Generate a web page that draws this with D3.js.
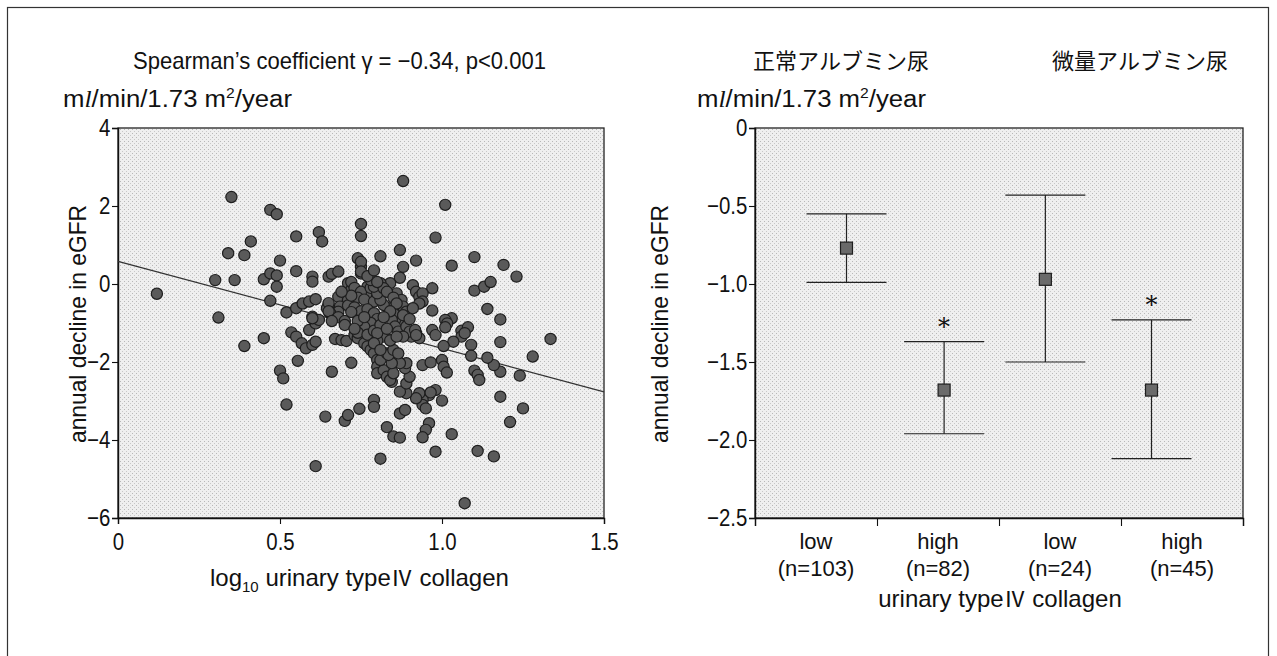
<!DOCTYPE html>
<html>
<head>
<meta charset="utf-8">
<script src="https://cdn.jsdelivr.net/npm/d3@7"></script>
<style>
  body { margin: 0; background: #fff; }
  svg { display: block; }
  text { fill: #111; }
</style>
</head>
<body>
<svg id="chart" width="1277" height="656"></svg>
<script>
// Left panel: log10 urinary type IV collagen vs annual eGFR decline (one point per patient)
const scatterPoints = [
  [0.12,-0.25],[0.30,0.10],[0.36,0.10],[0.35,2.23],[0.47,1.90],[0.49,1.79],[0.55,1.22],[0.62,1.33],[0.63,1.09],[0.41,1.09],
  [0.34,0.79],[0.39,0.74],[0.50,0.60],[0.55,0.33],[0.45,0.12],[0.47,0.27],[0.49,0.22],[0.49,-0.07],[0.47,-0.43],[0.60,0.19],
  [0.60,0.06],[0.65,0.19],[0.66,0.26],[0.68,0.32],[0.75,1.54],[0.75,1.23],[0.74,0.66],[0.75,0.44],[0.75,0.27],[0.52,-0.73],
  [0.55,-0.62],[0.57,-0.50],[0.59,-0.45],[0.61,-0.39],[0.65,-0.54],[0.68,-0.33],[0.71,0.02],[0.72,-0.15],[0.71,-0.41],[0.31,-0.86],
  [0.60,-0.84],
  [0.88,2.64],[1.01,2.03],[0.98,1.19],[0.87,0.87],[0.81,0.71],[0.92,0.60],[0.88,0.44],[1.03,0.47],[1.10,0.69],[1.19,0.49],
  [1.23,0.19],[0.87,0.16],[0.97,-0.11],[0.91,-0.03],[0.92,-0.20],[0.93,-0.33],[0.94,-0.24],[0.94,-0.45],[0.93,-0.50],[1.10,-0.17],
  [1.13,-0.07],[1.15,0.05],[1.14,-0.64],[0.97,-0.68],[1.03,-0.88],[1.18,-0.91],
  [0.45,-1.39],[0.39,-1.59],[0.535,-1.24],[0.55,-1.35],[0.567,-1.52],[0.58,-1.65],[0.60,-1.56],[0.61,-1.48],[0.59,-1.18],[0.61,-1.01],
  [0.62,-0.92],[0.555,-1.97],[0.50,-2.22],[0.51,-2.42],[0.52,-3.09],[0.64,-3.40],[0.70,-3.51],[0.71,-3.36],[0.745,-3.20],[0.61,-4.67],
  [0.66,-2.25],[0.72,-2.02],[0.67,-1.41],[0.69,-1.44],[0.705,-1.46],[0.73,-1.31],[0.74,-1.39],[0.76,-1.52],[0.77,-1.60],[0.78,-1.69],
  [0.79,-1.78],[0.80,-1.95],[0.80,-2.12],[0.80,-2.29],
  [1.335,-1.41],[1.18,-1.49],[1.28,-1.86],[1.24,-2.35],[1.18,-2.25],[1.16,-2.08],[1.14,-1.89],[1.09,-1.56],[1.09,-1.84],[1.10,-2.22],
  [1.11,-2.33],[1.115,-2.46],[1.18,-2.89],[1.25,-3.19],[1.21,-3.54],[1.03,-3.85],[0.98,-4.30],[1.11,-4.28],[1.16,-4.42],[0.81,-4.48],
  [1.07,-5.62],[1.01,-0.92],[1.016,-1.01],[1.01,-1.11],[1.06,-1.20],[1.08,-1.11],[1.06,-1.35],[1.07,-1.26],[1.035,-1.48],[1.005,-1.59],
  [0.97,-1.18],[0.98,-1.31],[0.94,-2.08],[0.965,-2.01],[1.00,-1.95],[1.005,-2.12],[1.015,-2.27],[1.00,-2.99],[0.98,-2.72],[0.96,-2.85],
  [0.94,-2.97],[0.94,-3.10],[0.95,-3.19],[0.93,-2.80],[0.92,-2.93],[0.965,-2.78],[0.96,-3.57],[0.95,-3.74],[0.94,-3.93],[0.87,-3.32],
  [0.79,-2.97],[0.79,-3.15],[0.83,-3.67],[0.85,-3.91],[0.87,-3.94],[0.886,-3.23],[0.89,-2.80],[0.87,-2.76],[0.89,-2.55],[0.90,-2.38],
  [0.886,-2.16],[0.89,-2.03],[0.82,-2.21],[0.83,-2.38],[0.845,-2.51],[0.81,-1.95],[0.83,-1.78],[0.85,-1.74],[0.86,-1.86],[0.87,-2.03],
  [0.84,-2.46],[0.85,-2.29],[0.845,-2.03],[0.835,-1.82],[0.85,-1.69],[0.865,-1.78],[0.92,-1.26],[0.93,-1.39],[0.905,-1.35],
  [0.75,0.57],[0.75,0.32],[0.77,-0.07],[0.78,-0.24],[0.685,-0.58],[0.68,-0.71],[0.645,-0.62],[0.655,-0.75],[0.65,-0.49],[0.60,-0.88],
  [0.72,0.05],[0.73,-0.10],[0.75,-0.20],[0.74,-0.35],[0.76,-0.40],[0.78,-0.10],[0.80,-0.30],[0.79,-0.45],[0.71,-0.55],[0.73,-0.60],
  [0.75,-0.70],[0.77,-0.65],[0.79,-0.75],[0.80,-0.90],[0.78,-1.00],[0.76,-1.10],[0.74,-1.25],[0.77,-1.30],[0.79,-1.20],[0.81,-1.05],
  [0.82,-1.35],[0.80,-1.45],[0.84,0.02],[0.86,-0.24],[0.875,-0.41],[0.88,-0.58],[0.89,-0.71],[0.875,-0.92],[0.865,-1.01],[0.855,-0.92],
  [0.85,-0.75],[0.835,-0.62],[0.82,-0.54],[0.81,-0.41],[0.80,-0.24],[0.79,-0.07],[0.78,0.10],[0.81,0.02],[0.82,-0.11],[0.845,-0.92],
  [0.855,-1.09],[0.865,-1.22],[0.89,-1.09],[0.90,-1.22],[0.917,-1.18],[0.92,-1.31],[0.88,-1.35],[0.65,-0.70],[0.68,-0.85],[0.70,-0.95],
  [0.72,-0.72],[0.74,-0.95],[0.70,-1.05],[0.73,-1.15],[0.66,-0.95],[0.80,-1.26],[0.79,-1.52],[0.81,-1.69],[0.77,0.20],[0.79,0.35],
  [0.80,0.05],[0.83,-0.20],[0.85,-0.35],[0.86,-0.50],[0.84,-0.70],[0.88,-0.80],[0.90,-0.90],[0.91,-0.62],[0.82,-0.85],[0.83,-1.15],
  [0.84,-1.45],[0.86,-1.35],[0.76,-0.85],[0.72,-0.30],[0.69,-0.20]
];

// Fitted regression line (intercept at x = 0, slope per log10 unit)
const fitIntercept = 0.58;
const fitSlope = -2.23;

const leftXTicks = [0, 0.5, 1.0, 1.5];
const leftXTickLabels = ["0", "0.5", "1.0", "1.5"];
const leftYTicks = [4, 2, 0, -2, -4, -6];
const leftYTickLabels = ["4", "2", "0", "−2", "−4", "−6"];

// Right panel: mean annual decline with error bars, by albuminuria stage and collagen level
const groupLabels = ["low", "high", "low", "high"];
const groupCounts = ["(n=103)", "(n=82)", "(n=24)", "(n=45)"];
const groupPositions = [0.75, 1.55, 2.38, 3.25];   // position of each marker along the category axis
const groupMeans = [-0.77, -1.68, -0.97, -1.68];
const groupUpper = [-0.55, -1.37, -0.43, -1.23];
const groupLower = [-0.99, -1.96, -1.50, -2.12];
const groupSignificant = [false, true, false, true];
const stageHeaders = ["正常アルブミン尿", "微量アルブミン尿"];
const rightYTicks = [0, -0.5, -1.0, -1.5, -2.0, -2.5];
const rightYTickLabels = ["0", "−0.5", "−1.0", "−1.5", "−2.0", "−2.5"];

const svg = d3.select("#chart");
const FONT = "'Liberation Sans', Arial, sans-serif";
const CJK = "'Noto Sans CJK JP', sans-serif";
const FS = 24;

// Stippled screen tone used for the plot backgrounds
const defs = svg.append("defs");
const pat = defs.append("pattern").attr("id", "tone")
  .attr("width", 4).attr("height", 4).attr("patternUnits", "userSpaceOnUse");
pat.append("rect").attr("width", 4).attr("height", 4).attr("fill", "#efefef");
pat.append("rect").attr("x", 0).attr("y", 1).attr("width", 1).attr("height", 1).attr("fill", "#b8b8b8");
pat.append("rect").attr("x", 2).attr("y", 3).attr("width", 1).attr("height", 1).attr("fill", "#c8c8c8");

// Outer frame
svg.append("rect").attr("x", 7.5).attr("y", 7.5).attr("width", 1261).attr("height", 700)
  .attr("fill", "none").attr("stroke", "#333").attr("stroke-width", 1.2);

// Axis styling; numeric tick labels use a condensed rendering
function styleAxis(g) {
  g.selectAll(".domain").attr("stroke", "#111").attr("stroke-width", 1.4);
  g.selectAll(".tick line").attr("stroke", "#111").attr("stroke-width", 1.1);
  g.selectAll("text").attr("font-family", FONT).attr("font-size", FS).attr("fill", "#111")
    .attr("transform", "scale(0.85,1)");
}

// ---------- Left panel ----------
const xL = d3.scaleLinear().domain([0, 1.5]).range([118, 604]);
const yL = d3.scaleLinear().domain([-6, 4]).range([518, 128]);

const gL = svg.append("g");
gL.append("rect").attr("x", xL(0)).attr("y", yL(4))
  .attr("width", xL(1.5) - xL(0)).attr("height", yL(-6) - yL(4))
  .attr("fill", "url(#tone)").attr("stroke", "#222").attr("stroke-width", 1.3);

gL.append("g").attr("transform", `translate(0,${yL(-6)})`)
  .call(d3.axisBottom(xL).tickValues(leftXTicks).tickSize(6).tickPadding(9)
    .tickFormat((d, i) => leftXTickLabels[i]))
  .call(styleAxis);

gL.append("g").attr("transform", `translate(${xL(0)},0)`)
  .call(d3.axisLeft(yL).tickValues(leftYTicks).tickSize(6).tickPadding(3)
    .tickFormat((d, i) => leftYTickLabels[i]))
  .call(styleAxis);

// regression line
gL.append("line")
  .attr("x1", xL(0)).attr("y1", yL(fitIntercept))
  .attr("x2", xL(1.5)).attr("y2", yL(fitIntercept + fitSlope * 1.5))
  .attr("stroke", "#333").attr("stroke-width", 1.3);

gL.append("g").selectAll("circle").data(scatterPoints).join("circle")
  .attr("cx", d => xL(d[0])).attr("cy", d => yL(d[1])).attr("r", 5.6)
  .attr("fill", "#5a5a5a").attr("stroke", "#1e1e1e").attr("stroke-width", 1.2);

// Left titles
svg.append("text").attr("x", 133).attr("y", 69)
  .attr("font-family", FONT).attr("font-size", FS)
  .attr("textLength", 413).attr("lengthAdjust", "spacingAndGlyphs")
  .text("Spearman’s coefficient  γ = −0.34, p<0.001");

function unitLabel(x) {
  const t = svg.append("text").attr("x", x).attr("y", 107)
    .attr("font-family", FONT).attr("font-size", 23)
    .attr("textLength", 229).attr("lengthAdjust", "spacingAndGlyphs");
  t.append("tspan").text("m");
  t.append("tspan").attr("font-style", "italic").attr("font-family", "'Liberation Serif', serif").text("l");
  t.append("tspan").text("/min/1.73 m");
  t.append("tspan").attr("font-size", 14).attr("dy", -9).text("2");
  t.append("tspan").attr("dy", 9).text("/year");
}
unitLabel(63);
unitLabel(697);

function yTitle(x) {
  svg.append("text").attr("transform", `translate(${x},324) rotate(-90)`)
    .attr("text-anchor", "middle").attr("font-family", FONT).attr("font-size", FS)
    .attr("textLength", 238).attr("lengthAdjust", "spacingAndGlyphs")
    .text("annual decline in eGFR");
}
yTitle(86);
yTitle(668);

const xt = svg.append("text").attr("x", 210).attr("y", 586)
  .attr("font-family", FONT).attr("font-size", FS);
xt.append("tspan").text("log");
xt.append("tspan").attr("font-size", 15).attr("dy", 6).text("10");
xt.append("tspan").attr("dy", -6).text(" urinary type");
xt.append("tspan").attr("font-family", CJK).attr("font-size", 22).text("Ⅳ");
xt.append("tspan").text(" collagen");

// ---------- Right panel ----------
const xR = d3.scaleLinear().domain([0, 4]).range([755, 1243]);
const yR = d3.scaleLinear().domain([-2.5, 0]).range([518, 128]);

const gR = svg.append("g");
gR.append("rect").attr("x", xR(0)).attr("y", yR(0))
  .attr("width", xR(4) - xR(0)).attr("height", yR(-2.5) - yR(0))
  .attr("fill", "url(#tone)").attr("stroke", "#222").attr("stroke-width", 1.3);

gR.append("g").attr("transform", `translate(0,${yR(-2.5)})`)
  .call(d3.axisBottom(xR).tickValues([0, 1, 2, 3, 4]).tickSize(8).tickFormat(""))
  .call(styleAxis);

gR.append("g").attr("transform", `translate(${xR(0)},0)`)
  .call(d3.axisLeft(yR).tickValues(rightYTicks).tickSize(6).tickPadding(3)
    .tickFormat((d, i) => rightYTickLabels[i]))
  .call(styleAxis);

const capHalf = 40;
const groups = groupLabels.map((lab, i) => ({
  i, lab, count: groupCounts[i], pos: groupPositions[i],
  mean: groupMeans[i], hi: groupUpper[i], lo: groupLower[i], sig: groupSignificant[i]
}));

const eb = gR.append("g").selectAll("g").data(groups).join("g");
eb.append("line").attr("x1", d => xR(d.pos)).attr("x2", d => xR(d.pos))
  .attr("y1", d => yR(d.hi)).attr("y2", d => yR(d.lo)).attr("stroke", "#222").attr("stroke-width", 1.2);
eb.append("line").attr("x1", d => xR(d.pos) - capHalf).attr("x2", d => xR(d.pos) + capHalf)
  .attr("y1", d => yR(d.hi)).attr("y2", d => yR(d.hi)).attr("stroke", "#222").attr("stroke-width", 1.2);
eb.append("line").attr("x1", d => xR(d.pos) - capHalf).attr("x2", d => xR(d.pos) + capHalf)
  .attr("y1", d => yR(d.lo)).attr("y2", d => yR(d.lo)).attr("stroke", "#222").attr("stroke-width", 1.2);
eb.append("rect").attr("x", d => xR(d.pos) - 6).attr("y", d => yR(d.mean) - 6)
  .attr("width", 12).attr("height", 12)
  .attr("fill", "#6a6a6a").attr("stroke", "#1e1e1e").attr("stroke-width", 1.2);
eb.filter(d => d.sig).append("text")
  .attr("x", d => xR(d.pos)).attr("y", d => yR(d.hi) - 7)
  .attr("text-anchor", "middle").attr("font-family", "'DejaVu Serif', serif").attr("font-size", 24)
  .text("*");

// category labels
const cats = gR.append("g").selectAll("g").data(groups).join("g");
cats.append("text").attr("x", d => xR(d.i + 0.5)).attr("y", 549).attr("text-anchor", "middle")
  .attr("font-family", FONT).attr("font-size", 22).text(d => d.lab);
cats.append("text").attr("x", d => xR(d.i + 0.5)).attr("y", 576).attr("text-anchor", "middle")
  .attr("font-family", FONT).attr("font-size", 22).text(d => d.count);

const xt2 = svg.append("text").attr("x", 1000).attr("y", 607).attr("text-anchor", "middle")
  .attr("font-family", FONT).attr("font-size", FS);
xt2.append("tspan").text("urinary type");
xt2.append("tspan").attr("font-family", CJK).attr("font-size", 22).text("Ⅳ");
xt2.append("tspan").text(" collagen");

// stage headers
svg.selectAll("text.stage").data(stageHeaders).join("text").attr("class", "stage")
  .attr("x", (d, i) => i === 0 ? 841 : 1140).attr("y", 69).attr("text-anchor", "middle")
  .attr("font-family", CJK).attr("font-size", 22).text(d => d);
</script>
</body>
</html>
